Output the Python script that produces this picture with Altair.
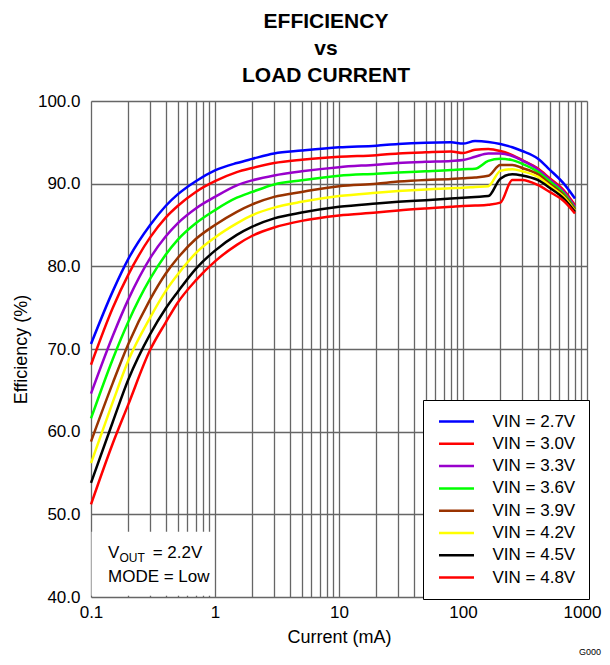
import altair as alt
import pandas as pd

FONT = "Liberation Sans"

CURRENT_MA = [0.1, 0.15, 0.2, 0.3, 0.4, 0.5, 0.7, 1, 1.5, 2, 3, 5, 10, 20, 30, 50,
              80, 100, 125, 160, 200, 250, 300, 400, 500, 650, 800]

SERIES = ["VIN = 2.7V", "VIN = 3.0V", "VIN = 3.3V", "VIN = 3.6V",
          "VIN = 3.9V", "VIN = 4.2V", "VIN = 4.5V", "VIN = 4.8V"]
COLORS = ["#0000FF", "#FF0000", "#9900CC", "#00FF00",
          "#993300", "#FFFF00", "#000000", "#FF0000"]

EFF_27 = [70.6, 77.0, 80.9, 85.0, 87.3, 88.7, 90.3, 91.6, 92.5, 93.0, 93.65, 94.0, 94.4,
          94.6, 94.8, 94.95, 95.0, 94.85, 95.15, 95.05, 94.8, 94.4, 93.95, 93.05, 91.7, 90.0, 88.2]
EFF_30 = [68.1, 75.0, 79.0, 83.5, 85.9, 87.3, 89.0, 90.3, 91.4, 91.9, 92.5, 92.9, 93.25,
          93.45, 93.65, 93.8, 93.9, 93.7, 94.1, 94.2, 93.95, 93.45, 92.85, 91.85, 90.65, 89.2, 87.4]
EFF_33 = [64.6, 71.6, 76.0, 81.0, 83.6, 85.2, 87.0, 88.4, 89.8, 90.4, 91.0, 91.5, 92.0,
          92.3, 92.5, 92.65, 92.75, 92.85, 93.25, 93.65, 93.65, 93.35, 92.8, 91.75, 90.5, 89.0, 87.2]
EFF_36 = [61.6, 68.8, 73.3, 78.5, 81.4, 83.2, 85.2, 86.8, 88.3, 89.0, 89.9, 90.4, 90.95,
          91.2, 91.35, 91.5, 91.65, 91.75, 91.8, 92.75, 93.0, 92.85, 92.4, 91.45, 90.3, 88.8, 87.0]
EFF_39 = [58.8, 65.9, 70.6, 76.0, 79.1, 81.0, 83.3, 85.0, 86.6, 87.5, 88.4, 89.0, 89.7,
          90.0, 90.25, 90.45, 90.55, 90.65, 90.75, 90.95, 92.25, 92.25, 91.9, 91.15, 90.0, 88.6, 86.9]
EFF_42 = [56.2, 63.6, 68.6, 73.8, 77.0, 79.0, 81.6, 83.5, 85.2, 86.2, 87.1, 87.8, 88.5,
          88.9, 89.1, 89.3, 89.45, 89.5, 89.6, 89.7, 91.55, 91.75, 91.5, 90.85, 89.75, 88.4, 86.7]
EFF_45 = [53.8, 61.2, 66.3, 71.8, 74.9, 76.9, 79.7, 81.9, 83.8, 84.8, 85.8, 86.5, 87.2,
          87.6, 87.8, 88.0, 88.2, 88.3, 88.4, 88.5, 90.6, 91.15, 91.0, 90.45, 89.5, 88.2, 86.6]
EFF_48 = [51.2, 58.6, 63.3, 69.9, 73.2, 75.6, 78.3, 80.6, 82.6, 83.7, 84.7, 85.5, 86.15,
          86.5, 86.75, 87.0, 87.2, 87.3, 87.35, 87.45, 87.7, 90.45, 90.45, 89.85, 89.0, 87.9, 86.4]

ALL_EFF = [EFF_27, EFF_30, EFF_33, EFF_36, EFF_39, EFF_42, EFF_45, EFF_48]

X_LABELS = [0.1, 1, 10, 100, 1000]
X_TICKS = [round(m * 10.0 ** e, 6) for e in range(-1, 3) for m in range(1, 10)] + [1000]
Y_TICKS = [40, 50, 60, 70, 80, 90, 100]

rows = []
for name, vals in zip(SERIES, ALL_EFF):
    for c, v in zip(CURRENT_MA, vals):
        rows.append({"current": c, "eff": v, "vin": name})
df = pd.DataFrame(rows)

X_SCALE = alt.Scale(type="log", domain=[0.1, 1000])
Y_SCALE = alt.Scale(domain=[40, 100], zero=False)

x_enc = alt.X(
    "current:Q",
    scale=X_SCALE,
    axis=alt.Axis(
        values=X_TICKS,
        format="~g",
        labelExpr="indexof(" + str(X_LABELS) + ", datum.value) >= 0 ? datum.label : ''",
        labelOffset={"condition": {"test": "datum.value >= 1000", "value": -5}, "value": 0},
        title="Current (mA)",
        titleFont=FONT, titleFontSize=18, titleFontWeight="normal", titleColor="black",
        titleY=40, titleBaseline="middle",
        labelFont=FONT, labelFontSize=17, labelColor="black", labelPadding=7,
        labelFlush=False, labelOverlap=False, labelBound=False,
        ticks=False, domain=False,
        grid=True, gridColor="#666666", gridWidth=1.3, gridOpacity=1,
    ),
)
y_enc = alt.Y(
    "eff:Q",
    scale=Y_SCALE,
    axis=alt.Axis(
        values=Y_TICKS,
        format=".1f",
        title="Efficiency (%)",
        titleFont=FONT, titleFontSize=18, titleFontWeight="normal", titleColor="black",
        titleX=-70, titleY=248, titleBaseline="middle", titleAngle=270,
        labelFont=FONT, labelFontSize=17, labelColor="black", labelPadding=11,
        labelOverlap=False, labelBound=False, labelFlush=False,
        ticks=False, domain=False,
        grid=True, gridColor="#666666", gridWidth=1.3, gridOpacity=1,
    ),
)

lines = alt.Chart(df).mark_line(strokeWidth=2.5, interpolate="monotone").encode(
    x=x_enc,
    y=y_enc,
    color=alt.Color(
        "vin:N",
        scale=alt.Scale(domain=SERIES, range=COLORS),
        sort=SERIES,
        legend=alt.Legend(
            title=None, orient="none", legendX=332, legendY=299,
            symbolType="M-5,0H5", symbolSize=49, symbolStrokeWidth=2.5,
            symbolOffset=12, labelOffset=27.5,
            labelFont=FONT, labelFontSize=17, labelColor="black", labelLimit=0,
            padding=13, rowPadding=4.3, fillColor="white", strokeColor="black",
        ),
    ),
    detail="vin:N",
)

# white box behind the condition note (data coordinates)
note_box = pd.DataFrame({"x0": [0.101], "x1": [0.95], "y0": [40.15], "y1": [47.9]})
box = alt.Chart(note_box).mark_rect(color="white").encode(
    x=alt.X("x0:Q", scale=X_SCALE), x2="x1:Q",
    y=alt.Y("y0:Q", scale=Y_SCALE), y2="y1:Q",
)

note_main = pd.DataFrame({
    "x": [0.1371, 0.3145, 0.1371],
    "y": [44.72, 44.72, 41.81],
    "t": ["V", "= 2.2V", "MODE = Low"],
})
note_sub = pd.DataFrame({"x": [0.1698], "y": [44.23], "t": ["OUT"]})

txt_main = alt.Chart(note_main).mark_text(
    align="left", baseline="alphabetic", font=FONT, fontSize=17, color="black"
).encode(x=alt.X("x:Q", scale=X_SCALE), y=alt.Y("y:Q", scale=Y_SCALE), text="t:N")
txt_sub = alt.Chart(note_sub).mark_text(
    align="left", baseline="alphabetic", font=FONT, fontSize=12, color="black"
).encode(x=alt.X("x:Q", scale=X_SCALE), y=alt.Y("y:Q", scale=Y_SCALE), text="t:N")

gid = alt.Chart(pd.DataFrame({"t": ["G000"]})).mark_text(
    align="left", baseline="alphabetic", font=FONT, fontSize=9, color="black"
).encode(x=alt.value(488), y=alt.value(554), text="t:N")

chart = alt.layer(box, lines, txt_main, txt_sub, gid).properties(
    width=496,
    height=496,
    autosize=alt.AutoSizeParams(type="none"),
    padding={"left": 83, "top": 93, "right": 15, "bottom": 60},
    title=alt.TitleParams(
        text=["EFFICIENCY", "vs", "LOAD CURRENT"],
        font=FONT, fontSize=21, fontWeight="bold", color="black",
        lineHeight=27, anchor="middle", dx=-13, dy=20, offset=5, baseline="bottom",
    ),
).configure_view(
    stroke="black", strokeWidth=2.5
).configure_legend(
    strokeWidth=2
).configure(background="white")

chart.save("out.html", embed_options={"renderer": "svg", "actions": False})
